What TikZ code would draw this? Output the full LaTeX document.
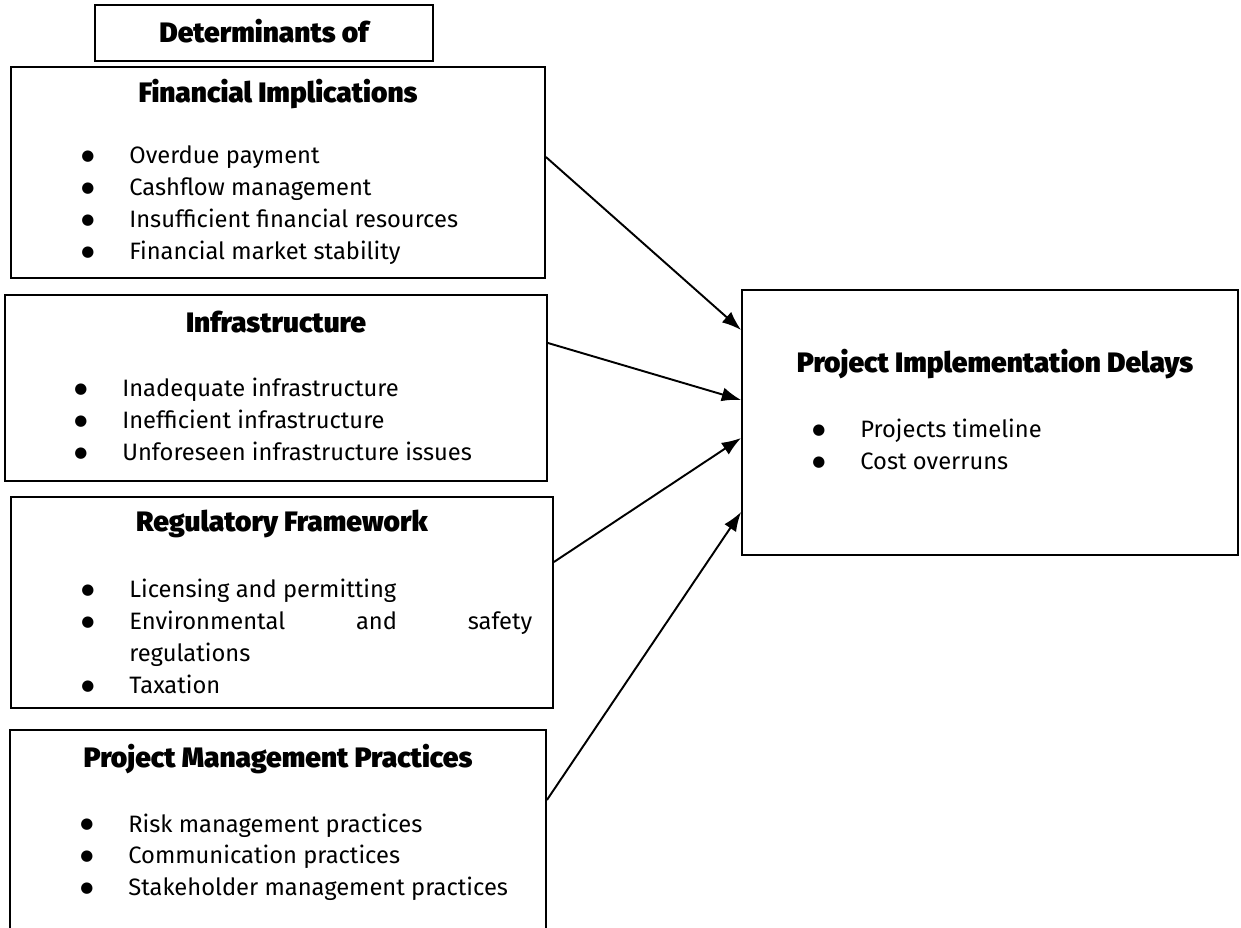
\documentclass[tikz,border=0pt]{standalone}
\usepackage{fontspec}
\setmainfont{Fira Sans}
\newfontfamily\symfont{DejaVu Sans}
\IfFontExistsTF{Fira Sans Black}
  {\newfontfamily\headfont{Fira Sans Black}}
  {\IfFontExistsTF{Fira Sans ExtraBold}
    {\newfontfamily\headfont{Fira Sans ExtraBold}}
    {\newcommand\headfont{\bfseries}}}
\usetikzlibrary{arrows.meta}
\newcommand\blt{\raisebox{2pt}{\symfont\fontsize{8.5}{8.5}\selectfont ●}}

\tikzset{
  box/.style={draw, line width=1.1pt, inner sep=0pt},
  head/.style={font=\headfont\fontsize{16}{19}\selectfont, anchor=base, inner sep=0pt},
  items/.style={font=\fontsize{13.5}{18.2}\selectfont, anchor=base west, inner sep=0pt},
  arr/.style={-{Latex[length=11pt,width=8pt]}, line width=1.1pt}
}

\begin{document}
\begin{tikzpicture}[x=0.02cm, y=-0.02cm]
\useasboundingbox (0,0) rectangle (1241,928);

% boxes
\node[box, minimum width=6.76cm, minimum height=1.12cm] (title) at (264,33) {};
\node[box, minimum width=10.68cm, minimum height=4.22cm] (fin) at (278,172.5) {};
\node[box, minimum width=10.84cm, minimum height=3.72cm] (infra) at (276,388) {};
\node[box, minimum width=10.84cm, minimum height=4.22cm] (reg) at (282,602.5) {};
\node[box, minimum width=10.72cm, minimum height=4.4cm] (pm) at (278,840) {};
\node[box, minimum width=9.92cm, minimum height=5.3cm] (pid) at (990,422.5) {};

% headings
\node[head] (titletext) at (264,43) {Determinants of};
\node[head] (finhead) at (278,103) {Financial Implications};
\node[head] (infrahead) at (276,333) {Infrastructure};
\node[head] (reghead) at (282,532) {Regulatory Framework};
\node[head] (pmhead) at (278,767) {Project Management Practices};
\node[head] (pidhead) at (995,373) {Project Implementation Delays};

% lists
\node[items] (finlist) at (81,164) {\begin{tabular}[t]{@{}p{0.96cm}@{}l@{}}
\blt & Overdue payment\\
\blt & Cashflow management\\
\blt & Insufficient financial resources\\
\blt & Financial market stability
\end{tabular}};
\node[items] (infralist) at (74,397) {\begin{tabular}[t]{@{}p{0.96cm}@{}l@{}}
\blt & Inadequate infrastructure\\
\blt & Inefficient infrastructure\\
\blt & Unforeseen infrastructure issues
\end{tabular}};
\node[items] (reglist) at (81,598) {\begin{tabular}[t]{@{}p{0.96cm}@{}l@{}}
\blt & Licensing and permitting\\
\blt & \makebox[8.06cm][l]{Environmental\hfill and\hfill safety}\\
 & regulations\\
\blt & Taxation
\end{tabular}};
\node[items] (pmlist) at (80,832) {\begin{tabular}[t]{@{}p{0.96cm}@{}l@{}}
\blt & Risk management practices\\
\blt & Communication practices\\
\blt & Stakeholder management practices
\end{tabular}};
\node[items] (pidlist) at (812,438) {\begin{tabular}[t]{@{}p{0.96cm}@{}l@{}}
\blt & Projects timeline\\
\blt & Cost overruns
\end{tabular}};

% arrows
\draw[arr] (fin.east |- 0,157) -- (pid.west |- 0,330);
\draw[arr] (infra.east |- 0,343) -- (pid.west |- 0,400);
\draw[arr] (reg.east |- 0,562) -- (pid.west |- 0,438);
\draw[arr] (pm.east |- 0,800) -- (pid.west |- 0,512);
\end{tikzpicture}
\end{document}
